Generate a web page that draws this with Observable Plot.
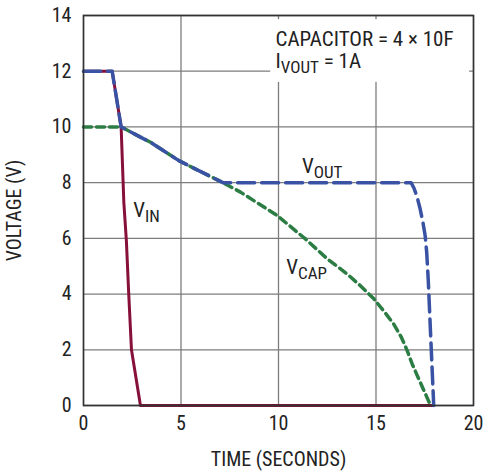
<!DOCTYPE html>
<html><head><meta charset="utf-8">
<script src="https://cdn.jsdelivr.net/npm/d3@7"></script>
<script src="https://cdn.jsdelivr.net/npm/@observablehq/plot@0.6"></script>
<style>
html,body{margin:0;padding:0;background:#fff;}
</style>
</head><body><div id="chart"></div>
<script>
// ---- data ----
const vinTime  = [0, 1.47, 1.93, 2.07, 2.2, 2.32, 2.46, 2.92, 17.95];
const vinVolt  = [12, 12, 10, 7.27, 5.9, 4.0, 2.0, 0, 0];

const voutTime = [0, 1.47, 1.93, 3.09, 3.44, 4.89, 5.57, 7.15, 16.8, 16.95, 17.1, 17.25, 17.4, 17.52, 17.6, 17.68, 17.76, 17.86, 17.96];
const voutVolt = [12, 12, 10, 9.57, 9.45, 8.79, 8.55, 8.0, 8.0, 7.8, 7.5, 7.1, 6.6, 6.1, 5.5, 4.5, 3.2, 1.6, 0];

const vcapTime = [0, 1.93, 3.09, 3.44, 4.89, 5.57, 7.15, 8.05, 9.93, 11.38, 12.49, 13.52, 14.2, 14.89, 15.5, 15.9, 16.3, 16.6, 16.85, 17.1, 17.45, 17.8];
const vcapVolt = [10, 10, 9.57, 9.45, 8.79, 8.55, 8.0, 7.66, 6.82, 5.98, 5.27, 4.72, 4.3, 3.83, 3.3, 2.93, 2.45, 1.97, 1.5, 1.1, 0.55, 0];

const xTicks = [0, 5, 10, 15, 20];
const yTicks = [0, 2, 4, 6, 8, 10, 12, 14];

const seriesLabels = ["V_{IN}", "V_{OUT}", "V_{CAP}"];
const labelTime    = [2.55, 11.2, 10.4];
const labelVolt    = [6.75, 8.35, 4.72];

const noteLines = ["CAPACITOR = 4 × 10F", "I_{VOUT} = 1A"];
const noteTime  = [9.85, 9.85];
const noteVolt  = [12.9, 12.12];
const noteBox   = [{x1: 9.6, x2: 19.8, y1: 11.6, y2: 13.85}];

// ---- build tables ----
const toRows = (t, v) => t.map((x, i) => ({t: x, v: v[i]}));
const vin = toRows(vinTime, vinVolt);
const vout = toRows(voutTime, voutVolt);
const vcap = toRows(vcapTime, vcapVolt);
const labels = seriesLabels.map((s, i) => ({s, t: labelTime[i], v: labelVolt[i]}));
const notes = noteLines.map((s, i) => ({s, t: noteTime[i], v: noteVolt[i]}));

const FONT = "'Liberation Sans Narrow','Arial Narrow','Roboto Condensed',sans-serif";
const RED = "#86103a", BLUE = "#3a52a3", GREEN = "#2c7d44", GRID = "#7d7d7d";

const chart = Plot.plot({
  width: 500, height: 473,
  marginLeft: 83, marginRight: 27, marginTop: 15, marginBottom: 68,
  style: {fontFamily: FONT, fontSize: "20px", color: "#222", background: "#fff", overflow: "visible"},
  x: {domain: [0, 20]},
  y: {domain: [0, 14]},
  marks: [
    Plot.gridX(xTicks, {stroke: GRID, strokeOpacity: 1, strokeWidth: 1.3}),
    Plot.gridY(yTicks, {stroke: GRID, strokeOpacity: 1, strokeWidth: 1.3}),
    Plot.rect(noteBox, {x1: "x1", x2: "x2", y1: "y1", y2: "y2", fill: "white"}),
    Plot.text(notes, {x: "t", y: "v", text: "s", textAnchor: "start", lineAnchor: "bottom", fill: "#222", fontSize: 21}),
    Plot.line(vin, {x: "t", y: "v", stroke: RED, strokeWidth: 3}),
    Plot.line(vcap, {x: "t", y: "v", stroke: GREEN, strokeWidth: 3.5, strokeDasharray: "8,5"}),
    Plot.line(vout, {x: "t", y: "v", stroke: BLUE, strokeWidth: 3.5, strokeDasharray: "17,7"}),
    Plot.text(labels, {x: "t", y: "v", text: "s", textAnchor: "start", lineAnchor: "bottom", fill: "#222", fontSize: 21}),
    Plot.frame({stroke: "#333", strokeWidth: 1.6}),
    Plot.axisX(xTicks, {tickSize: 0, tickPadding: 10, fontSize: 20, label: "TIME (SECONDS)", labelAnchor: "center", labelOffset: 60, labelArrow: "none"}),
    Plot.axisY(yTicks, {tickSize: 0, tickPadding: 12, fontSize: 20, label: "VOLTAGE (V)", labelAnchor: "center", labelOffset: 77, labelArrow: "none"})
  ]
});

// subscripts: "X_{SUB} rest"
d3.select(chart).selectAll("text").each(function() {
  const el = this;
  if (el.querySelector("tspan")) return;
  const txt = el.textContent;
  const m = txt.match(/^(.*?)_\{([^}]*)\}(.*)$/);
  if (!m) return;
  el.textContent = "";
  const s = d3.select(el);
  s.append("tspan").text(m[1]);
  s.append("tspan").attr("dy", "5").attr("font-size", "17px").text(m[2]);
  if (m[3]) s.append("tspan").attr("dy", "-5").text(m[3]);
});

document.getElementById("chart").appendChild(chart);
</script>
</body></html>
